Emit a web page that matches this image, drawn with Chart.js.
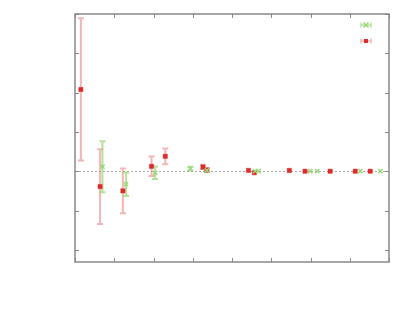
<!DOCTYPE html>
<html>
<head>
<meta charset="utf-8">
<script src="https://cdn.jsdelivr.net/npm/chart.js@4/dist/chart.umd.min.js"></script>
<style>
  html, body { margin: 0; padding: 0; background: #fff; }
  #wrap { width: 416px; height: 311px; }
</style>
</head>
<body>
<div id="wrap"><canvas id="plot"></canvas></div>
<script>
const redX = [0.15, 0.64, 1.22, 1.95, 2.30, 3.26, 3.36, 4.42, 4.57, 5.46, 5.86, 6.50, 7.14, 7.52];
const redY = [2.08, -0.39, -0.50, 0.125, 0.38, 0.107, 0.03, 0.02, -0.04, 0.02, 0.0, 0.0, 0.0, 0.0];
const redErr = [1.81, 0.95, 0.57, 0.25, 0.2, 0.06, 0.05, 0, 0, 0, 0, 0, 0, 0];

const greenX = [0.70, 1.30, 2.04, 2.94, 3.36, 4.59, 4.68, 5.99, 6.17, 7.27, 7.78];
const greenY = [0.115, -0.33, -0.04, 0.065, 0.02, 0, 0, 0, 0, 0, 0];
const greenErr = [0.65, 0.3, 0.16, 0.05, 0.04, 0, 0, 0, 0, 0, 0];

const xTicks = [0, 1, 2, 3, 4, 5, 6, 7, 8];
const yTicks = [-2, -1, 0, 1, 2, 3, 4];

const RED = "#dd2a2a";
const RED_BAR = "rgba(235, 120, 120, 0.55)";
const GREEN = "#98d878";
const GREEN_BAR = "rgba(150, 215, 110, 0.7)";

function pts(xs, ys) {
  return xs.map((x, i) => ({ x: x, y: ys[i] }));
}

const frame = {
  id: "frame",
  beforeDatasetsDraw(chart) {
    const { ctx, chartArea: a, scales: { x, y } } = chart;
    ctx.save();
    // dotted zero line
    ctx.strokeStyle = "#aaa";
    ctx.lineWidth = 1;
    ctx.setLineDash([2, 2]);
    const y0 = Math.round(y.getPixelForValue(0)) + 0.5;
    ctx.beginPath();
    ctx.moveTo(a.left, y0);
    ctx.lineTo(a.right, y0);
    ctx.stroke();
    ctx.setLineDash([]);

    // error bars
    const bars = [
      [redX, redY, redErr, RED_BAR],
      [greenX, greenY, greenErr, GREEN_BAR],
    ];
    bars.forEach(([xs, ys, es, col]) => {
      ctx.strokeStyle = col;
      ctx.lineWidth = 2;
      xs.forEach((xv, i) => {
        if (!es[i]) return;
        const px = x.getPixelForValue(xv);
        const top = y.getPixelForValue(ys[i] + es[i]);
        const bot = y.getPixelForValue(ys[i] - es[i]);
        ctx.beginPath();
        ctx.moveTo(px, top);
        ctx.lineTo(px, bot);
        ctx.moveTo(px - 3, top);
        ctx.lineTo(px + 3, top);
        ctx.moveTo(px - 3, bot);
        ctx.lineTo(px + 3, bot);
        ctx.stroke();
      });
    });
    ctx.restore();
  },
  afterDatasetsDraw(chart) {
    const { ctx, chartArea: a, scales: { x, y } } = chart;
    ctx.save();
    ctx.strokeStyle = "#888";
    ctx.lineWidth = 1.5;
    ctx.strokeRect(a.left, a.top, a.right - a.left, a.bottom - a.top);
    ctx.lineWidth = 1;
    ctx.beginPath();
    xTicks.forEach((v) => {
      const px = Math.round(x.getPixelForValue(v)) + 0.5;
      ctx.moveTo(px, a.bottom);
      ctx.lineTo(px, a.bottom - 4);
      ctx.moveTo(px, a.top);
      ctx.lineTo(px, a.top + 4);
    });
    yTicks.forEach((v) => {
      const py = Math.round(y.getPixelForValue(v)) + 0.5;
      ctx.moveTo(a.left, py);
      ctx.lineTo(a.left + 4, py);
      ctx.moveTo(a.right, py);
      ctx.lineTo(a.right - 4, py);
    });
    ctx.stroke();

    // key samples (no text)
    const kx = a.right - 23;
    const keys = [
      [a.top + 11, GREEN_BAR, GREEN, "cross"],
      [a.top + 27, RED_BAR, RED, "rect"],
    ];
    keys.forEach(([ky, barCol, ptCol, kind]) => {
      ctx.strokeStyle = barCol;
      ctx.lineWidth = 1.5;
      ctx.beginPath();
      ctx.moveTo(kx - 5, ky);
      ctx.lineTo(kx + 5, ky);
      ctx.moveTo(kx - 5, ky - 2.5);
      ctx.lineTo(kx - 5, ky + 2.5);
      ctx.moveTo(kx + 5, ky - 2.5);
      ctx.lineTo(kx + 5, ky + 2.5);
      ctx.stroke();
      if (kind === "rect") {
        ctx.fillStyle = ptCol;
        ctx.fillRect(kx - 2, ky - 2, 4, 4);
      } else {
        ctx.strokeStyle = ptCol;
        ctx.beginPath();
        ctx.moveTo(kx - 2.5, ky - 2.5);
        ctx.lineTo(kx + 2.5, ky + 2.5);
        ctx.moveTo(kx - 2.5, ky + 2.5);
        ctx.lineTo(kx + 2.5, ky - 2.5);
        ctx.stroke();
      }
    });
    ctx.restore();
  },
};

new Chart(document.getElementById("plot"), {
  type: "scatter",
  data: {
    datasets: [
      {
        label: "green",
        data: pts(greenX, greenY),
        pointStyle: "crossRot",
        pointRadius: 3,
        borderColor: GREEN,
        borderWidth: 1.5,
        backgroundColor: GREEN,
      },
      {
        label: "red",
        data: pts(redX, redY),
        pointStyle: "rect",
        pointRadius: 3,
        borderColor: RED,
        borderWidth: 0.5,
        backgroundColor: RED,
      },
    ],
  },
  options: {
    responsive: true,
    maintainAspectRatio: false,
    animation: false,
    layout: { padding: { left: 75, top: 14, right: 27, bottom: 49 } },
    plugins: {
      legend: { display: false },
      tooltip: { enabled: false },
    },
    scales: {
      x: { type: "linear", min: 0, max: 8, display: false },
      y: { type: "linear", min: -2.31, max: 4, display: false },
    },
  },
  plugins: [frame],
});
</script>
</body>
</html>
